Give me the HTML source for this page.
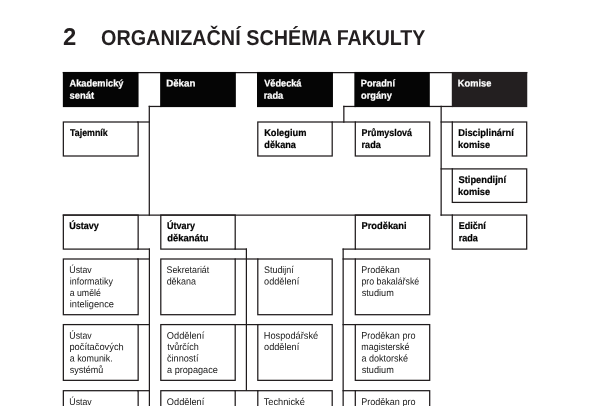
<!DOCTYPE html>
<html lang="cs">
<head>
<meta charset="utf-8">
<title>Organizační schéma fakulty</title>
<style>
html,body{margin:0;padding:0;background:#fff;}
body{width:606px;height:406px;overflow:hidden;position:relative;font-family:"Liberation Sans",sans-serif;}
svg{position:absolute;left:0;top:0;will-change:transform;}
svg text{font-family:"Liberation Sans",sans-serif;font-size:9.85px;}
.l{fill:none;stroke:#1f1b1c;stroke-width:1.25;stroke-linecap:square;}
.b{fill:none;stroke:#1f1b1c;stroke-width:1.25;}
.k{fill:#050505;}
.k2{fill:#231f20;}
.tt{font-weight:bold;fill:#231f20;}
.hw{fill:#fff;font-weight:bold;stroke:#fff;stroke-width:0.22px;}
.hb{fill:#000;font-weight:bold;stroke:#000;stroke-width:0.22px;}
.lt{fill:#161616;font-weight:normal;font-size:9.7px;}
</style>
</head>
<body>
<svg width="606" height="406" viewBox="0 0 606 406" role="img" aria-label="Organizační schéma fakulty">
<g id="title">
<text class="tt" style="font-size:24.4px" transform="translate(62.94,45.05) rotate(0.03) scale(0.9787,1)">2</text>
<text class="tt" style="font-size:21.5px" transform="translate(100.99,45.05) rotate(0.03) scale(0.9217,1)">ORGANIZAČNÍ</text>
<text class="tt" style="font-size:21.5px" transform="translate(246.32,45.05) rotate(0.03) scale(0.9217,1)">SCHÉMA</text>
<text class="tt" style="font-size:21.5px" transform="translate(336.64,45.05) rotate(0.03) scale(0.9098,1)">FAKULTY</text>
</g>
<g id="connectors">
<path class="l" d="M63.35 72.6H526.7"/>
<path class="l" d="M149.3 106.45H160.8"/>
<path class="l" d="M149.3 106.45V215.05"/>
<path class="l" d="M137.75 122H149.3"/>
<path class="l" d="M343.85 106.45H355.3"/>
<path class="l" d="M343.85 106.45V122"/>
<path class="l" d="M332.2 122H355.3"/>
<path class="l" d="M429.7 106.45H452.3"/>
<path class="l" d="M441.15 106.45V215.05"/>
<path class="l" d="M441.15 122H452.3"/>
<path class="l" d="M441.15 168.9H452.3"/>
<path class="l" d="M441.15 215.05H452.3"/>
<path class="l" d="M63.35 215.05H429.7"/>
<path class="l" d="M137.75 249.1H149.4"/>
<path class="l" d="M149.4 249.1V420"/>
<path class="l" d="M235.2 249.1H246.4"/>
<path class="l" d="M246.4 249.1V390.1"/>
<path class="l" d="M343.15 249.1H355.3"/>
<path class="l" d="M343.15 249.1V420"/>
<path class="l" d="M137.75 259H149.4"/>
<path class="l" d="M235.2 259H257.8"/>
<path class="l" d="M343.15 259H355.3"/>
<path class="l" d="M137.75 324.6H149.4"/>
<path class="l" d="M235.2 324.6H257.8"/>
<path class="l" d="M343.15 324.6H355.3"/>
<path class="l" d="M137.75 390.7H149.4"/>
<path class="l" d="M235.2 390.7H257.8"/>
<path class="l" d="M343.15 390.7H355.3"/>
</g>
<g id="boxes">
<rect class="k" x="62.85" y="71.95" width="75.7" height="35.15"/>
<rect class="k" x="160.15" y="71.95" width="75.7" height="35.15"/>
<rect class="k" x="257" y="71.95" width="75.95" height="35.15"/>
<rect class="k" x="354.35" y="71.95" width="75.45" height="35.15"/>
<rect class="k2" x="451.8" y="71.95" width="75.45" height="35.15"/>
<rect class="b" x="63.35" y="122" width="74.8" height="34"/>
<rect class="b" x="257.8" y="122" width="74.4" height="34"/>
<rect class="b" x="355.3" y="122" width="74.4" height="34"/>
<rect class="b" x="452.3" y="122" width="74.4" height="34"/>
<rect class="b" x="452.3" y="168.9" width="74.4" height="33.5"/>
<rect class="b" x="63.35" y="215.05" width="74.8" height="34.05"/>
<rect class="b" x="160.8" y="215.05" width="74.4" height="34.05"/>
<rect class="b" x="355.3" y="215.05" width="74.4" height="34.05"/>
<rect class="b" x="452.3" y="215.05" width="74.4" height="34.05"/>
<rect class="b" x="63.35" y="259" width="74.8" height="55.7"/>
<rect class="b" x="160.8" y="259" width="74.4" height="55.7"/>
<rect class="b" x="257.8" y="259" width="74.4" height="55.7"/>
<rect class="b" x="355.3" y="259" width="74.4" height="55.7"/>
<rect class="b" x="63.35" y="324.6" width="74.8" height="55.75"/>
<rect class="b" x="160.8" y="324.6" width="74.4" height="55.75"/>
<rect class="b" x="257.8" y="324.6" width="74.4" height="55.75"/>
<rect class="b" x="355.3" y="324.6" width="74.4" height="55.75"/>
<rect class="b" x="63.35" y="390.7" width="74.8" height="56"/>
<rect class="b" x="160.8" y="390.7" width="74.4" height="56"/>
<rect class="b" x="257.8" y="390.7" width="74.4" height="56"/>
<rect class="b" x="355.3" y="390.7" width="74.4" height="56"/>
</g>
<g id="labels">
<g aria-label="Akademický senát">
<text class="hw" transform="translate(69.58,86.6) rotate(0.03) scale(0.9377,1)">Akademický</text>
<text class="hw" transform="translate(69.46,98.7) rotate(0.03) scale(0.9608,1)">senát</text>
</g>
<g aria-label="Děkan">
<text class="hw" transform="translate(166.15,86.6) rotate(0.03) scale(0.9912,1)">Děkan</text>
</g>
<g aria-label="Vědecká rada">
<text class="hw" transform="translate(264.22,86.6) rotate(0.03) scale(0.9329,1)">Vědecká</text>
<text class="hw" transform="translate(263.63,98.7) rotate(0.03) scale(0.9463,1)">rada</text>
</g>
<g aria-label="Poradní orgány">
<text class="hw" transform="translate(360.83,86.6) rotate(0.03) scale(0.9315,1)">Poradní</text>
<text class="hw" transform="translate(361.06,98.7) rotate(0.03) scale(0.9410,1)">orgány</text>
</g>
<g aria-label="Komise">
<text class="hw" transform="translate(457.78,86.6) rotate(0.03) scale(0.9434,1)">Komise</text>
</g>
<g aria-label="Tajemník">
<text class="hb" transform="translate(70.1,136) rotate(0.03) scale(0.8973,1)">Tajemník</text>
</g>
<g aria-label="Kolegium děkana">
<text class="hb" transform="translate(264.13,136) rotate(0.03) scale(0.9436,1)">Kolegium</text>
<text class="hb" transform="translate(264.37,148.1) rotate(0.03) scale(0.9299,1)">děkana</text>
</g>
<g aria-label="Průmyslová rada">
<text class="hb" transform="translate(361.55,136) rotate(0.03) scale(0.9063,1)">Průmyslová</text>
<text class="hb" transform="translate(361.54,148.1) rotate(0.03) scale(0.9268,1)">rada</text>
</g>
<g aria-label="Disciplinární komise">
<text class="hb" transform="translate(458.18,136) rotate(0.03) scale(0.9424,1)">Disciplinární</text>
<text class="hb" transform="translate(458.06,148.1) rotate(0.03) scale(0.9439,1)">komise</text>
</g>
<g aria-label="Stipendijní komise">
<text class="hb" transform="translate(458.48,182.9) rotate(0.03) scale(0.9465,1)">Stipendijní</text>
<text class="hb" transform="translate(458.06,195) rotate(0.03) scale(0.9439,1)">komise</text>
</g>
<g aria-label="Ústavy">
<text class="hb" transform="translate(69.14,229.05) rotate(0.03) scale(0.9161,1)">Ústavy</text>
</g>
<g aria-label="Útvary děkanátu">
<text class="hb" transform="translate(166.94,229.05) rotate(0.03) scale(0.9157,1)">Útvary</text>
<text class="hb" transform="translate(167.16,241.15) rotate(0.03) scale(0.9605,1)">děkanátu</text>
</g>
<g aria-label="Proděkani">
<text class="hb" transform="translate(361.53,229.05) rotate(0.03) scale(0.9473,1)">Proděkani</text>
</g>
<g aria-label="Ediční rada">
<text class="hb" transform="translate(458.69,229.05) rotate(0.03) scale(0.9209,1)">Ediční</text>
<text class="hb" transform="translate(458.69,241.15) rotate(0.03) scale(0.9195,1)">rada</text>
</g>
<g aria-label="Ústav informatiky a umělé inteligence">
<text class="lt" transform="translate(69.34,273.1) rotate(0.03) scale(0.9025,1)">Ústav</text>
<text class="lt" transform="translate(69.77,284.5) rotate(0.03) scale(0.9203,1)">informatiky</text>
<text class="lt" transform="translate(69.68,295.9) rotate(0.03) scale(0.9035,1)">a umělé</text>
<text class="lt" transform="translate(69.75,307.3) rotate(0.03) scale(0.9558,1)">inteligence</text>
</g>
<g aria-label="Sekretariát děkana">
<text class="lt" transform="translate(166.54,273.1) rotate(0.03) scale(0.9103,1)">Sekretariát</text>
<text class="lt" transform="translate(166.65,284.5) rotate(0.03) scale(0.9211,1)">děkana</text>
</g>
<g aria-label="Studijní oddělení">
<text class="lt" transform="translate(263.99,273.1) rotate(0.03) scale(0.9213,1)">Studijní</text>
<text class="lt" transform="translate(264.1,284.5) rotate(0.03) scale(0.9456,1)">oddělení</text>
</g>
<g aria-label="Proděkan pro bakalářské studium">
<text class="lt" transform="translate(361.26,273.1) rotate(0.03) scale(0.9259,1)">Proděkan</text>
<text class="lt" transform="translate(361.38,284.5) rotate(0.03) scale(0.9112,1)">pro bakalářské</text>
<text class="lt" transform="translate(361.71,295.9) rotate(0.03) scale(0.9470,1)">studium</text>
</g>
<g aria-label="Ústav počítačových a komunik. systémů">
<text class="lt" transform="translate(69.37,338.7) rotate(0.03) scale(0.9021,1)">Ústav</text>
<text class="lt" transform="translate(69.45,350.1) rotate(0.03) scale(0.9584,1)">počítačových</text>
<text class="lt" transform="translate(69.71,361.5) rotate(0.03) scale(0.9195,1)">a komunik.</text>
<text class="lt" transform="translate(69.82,372.9) rotate(0.03) scale(0.9267,1)">systémů</text>
</g>
<g aria-label="Oddělení tvůrčích činností a propagace">
<text class="lt" transform="translate(166.87,338.7) rotate(0.03) scale(0.9510,1)">Oddělení</text>
<text class="lt" transform="translate(167.23,350.1) rotate(0.03) scale(0.9313,1)">tvůrčích</text>
<text class="lt" transform="translate(167,361.5) rotate(0.03) scale(0.9409,1)">činností</text>
<text class="lt" transform="translate(167,372.9) rotate(0.03) scale(0.9443,1)">a propagace</text>
</g>
<g aria-label="Hospodářské oddělení">
<text class="lt" transform="translate(263.74,338.7) rotate(0.03) scale(0.9521,1)">Hospodářské</text>
<text class="lt" transform="translate(264.1,350.1) rotate(0.03) scale(0.9456,1)">oddělení</text>
</g>
<g aria-label="Proděkan pro magisterské a doktorské studium">
<text class="lt" transform="translate(361.25,338.7) rotate(0.03) scale(0.9325,1)">Proděkan pro</text>
<text class="lt" transform="translate(361.37,350.1) rotate(0.03) scale(0.9203,1)">magisterské</text>
<text class="lt" transform="translate(361.6,361.5) rotate(0.03) scale(0.9289,1)">a doktorské</text>
<text class="lt" transform="translate(361.71,372.9) rotate(0.03) scale(0.9470,1)">studium</text>
</g>
<g aria-label="Ústav">
<text class="lt" transform="translate(69.37,405.05) rotate(0.03) scale(0.9021,1)">Ústav</text>
</g>
<g aria-label="Oddělení">
<text class="lt" transform="translate(166.87,405.05) rotate(0.03) scale(0.9510,1)">Oddělení</text>
</g>
<g aria-label="Technické">
<text class="lt" transform="translate(263.71,405.05) rotate(0.03) scale(0.9522,1)">Technické</text>
</g>
<g aria-label="Proděkan pro">
<text class="lt" transform="translate(361.25,405.05) rotate(0.03) scale(0.9325,1)">Proděkan pro</text>
</g>
</g>
</svg>
</body>
</html>
